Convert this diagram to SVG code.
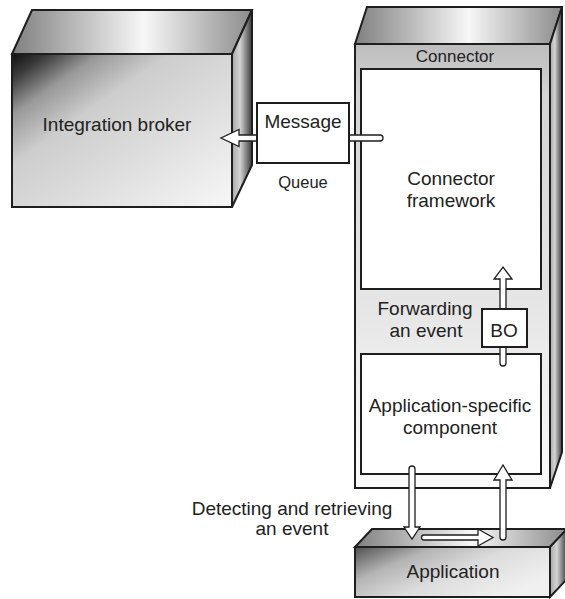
<svg xmlns="http://www.w3.org/2000/svg" width="565" height="599" viewBox="0 0 565 599">
<defs>
  <linearGradient id="brokerFront" x1="0" y1="0" x2="1" y2="1">
    <stop offset="0" stop-color="#111"/>
    <stop offset="0.08" stop-color="#3a3a3a"/>
    <stop offset="0.2" stop-color="#999"/>
    <stop offset="0.36" stop-color="#cdcdcd"/>
    <stop offset="0.6" stop-color="#dcdcdc"/>
    <stop offset="1" stop-color="#f7f7f7"/>
  </linearGradient>
  <linearGradient id="topFace" x1="0" y1="0" x2="1" y2="0">
    <stop offset="0" stop-color="#808080"/>
    <stop offset="0.55" stop-color="#f7f7f7"/>
    <stop offset="1" stop-color="#8c8c8c"/>
  </linearGradient>
  <linearGradient id="sideFace" x1="0" y1="0" x2="1" y2="0">
    <stop offset="0" stop-color="#a8a8a8"/>
    <stop offset="0.4" stop-color="#d4d4d4"/>
    <stop offset="1" stop-color="#3a3a3a"/>
  </linearGradient>
  <linearGradient id="connFront" x1="0" y1="0" x2="0" y2="1">
    <stop offset="0" stop-color="#bdbdbd"/>
    <stop offset="0.12" stop-color="#d4d4d4"/>
    <stop offset="0.6" stop-color="#e6e6e6"/>
    <stop offset="1" stop-color="#fbfbfb"/>
  </linearGradient>
  <linearGradient id="appFront" x1="0" y1="0" x2="1" y2="0.6">
    <stop offset="0" stop-color="#505050"/>
    <stop offset="0.3" stop-color="#b4b4b4"/>
    <stop offset="0.6" stop-color="#dcdcdc"/>
    <stop offset="1" stop-color="#f0f0f0"/>
  </linearGradient>
  <style>
    .edge { stroke: #1e1e1e; stroke-width: 2; stroke-linejoin: miter; }
    .box { fill: #fff; stroke: #1e1e1e; stroke-width: 2; }
    .arrow { fill: #fff; stroke: #1e1e1e; stroke-width: 1.3; stroke-linejoin: miter; }
    text { font-family: "Liberation Sans", Arial, sans-serif; fill: #222; text-anchor: middle; }
    .t19 { font-size: 19px; }
    .t17 { font-size: 17px; }
    .t16 { font-size: 16.5px; }
  </style>
</defs>

<g id="integration-broker">
  <polygon class="edge" fill="url(#topFace)" points="12,54 32,10 252,10 232,54"/>
  <polygon class="edge" fill="url(#sideFace)" points="232,54 252,10 252,165 232,207"/>
  <rect class="edge" fill="url(#brokerFront)" x="12" y="54" width="220" height="153"/>
  <text class="t19" x="117" y="131">Integration broker</text>
</g>

<g id="connector">
  <polygon class="edge" fill="url(#topFace)" points="355,44 367,7 562,7 550,44"/>
  <polygon class="edge" fill="url(#sideFace)" points="550,44 562,7 562,452 550,488"/>
  <rect class="edge" fill="url(#connFront)" x="355" y="44" width="195" height="444"/>
  <text class="t17" x="455" y="62">Connector</text>
</g>

<g id="connector-framework">
  <rect class="box" x="361" y="69" width="180" height="220"/>
  <text class="t19" x="451" y="185">Connector</text>
  <text class="t19" x="451" y="207">framework</text>
</g>

<g id="forwarding-label">
  <text class="t19" x="425" y="315">Forwarding</text>
  <text class="t19" x="426" y="337">an event</text>
</g>

<g id="application-specific-component">
  <rect class="box" x="361" y="354" width="180" height="120"/>
  <text class="t19" x="450" y="412">Application-specific</text>
  <text class="t19" x="450" y="434">component</text>
</g>

<g id="application">
  <polygon class="edge" fill="url(#topFace)" points="355,547 372,529 567,529 550,547"/>
  <polygon class="edge" fill="url(#sideFace)" points="550,547 567,529 567,579 550,597"/>
  <rect class="edge" fill="url(#appFront)" x="355" y="547" width="195" height="50"/>
  <text class="t19" x="453" y="578">Application</text>
</g>

<g id="detecting-label">
  <text class="t19" x="292" y="515">Detecting and retrieving</text>
  <text class="t19" x="292" y="535">an event</text>
</g>

<g id="connectors">
  <path class="arrow" d="M257,135 L239,135 L239,129.5 L221,138 L239,146.5 L239,141 L257,141 Z"/>
  <path class="arrow" d="M349,135 L380,135 A3,3 0 0 1 380,141 L349,141 Z"/>
  <path class="arrow" d="M500,363 L500,279 L494,279 L503,267 L512,279 L506,279 L506,363 A3,3 0 0 1 500,363 Z"/>
  <path class="arrow" d="M409,469 A3,3 0 0 1 415,469 L415,527 L420,527 L412,539 L404,527 L409,527 Z"/>
  <path class="arrow" d="M424,535 L478,535 L478,529 L493,537.5 L478,546 L478,540 L424,540 A2.5,2.5 0 0 1 424,535 Z"/>
  <path class="arrow" d="M500,537 L500,480 L494,480 L503,465 L512,480 L506,480 L506,537 A3,3 0 0 1 500,537 Z"/>
</g>

<g id="message-queue">
  <rect class="box" x="257" y="103" width="92" height="60"/>
  <text class="t19" x="303" y="128">Message</text>
  <text class="t16" x="303" y="188">Queue</text>
</g>

<g id="bo">
  <rect class="box" x="482" y="309" width="45" height="38"/>
  <text class="t19" x="504" y="337">BO</text>
</g>
</svg>
